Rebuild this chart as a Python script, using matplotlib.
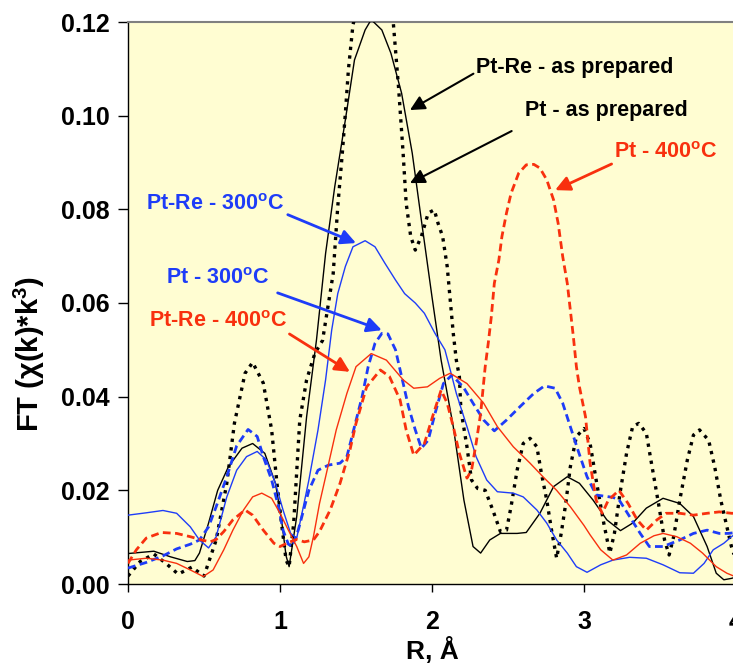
import matplotlib
matplotlib.use("Agg")
import matplotlib.pyplot as plt

plt.rcParams['font.family'] = ['Liberation Sans', 'DejaVu Sans']
plt.rcParams['font.weight'] = 'bold'
plt.rcParams['mathtext.fontset'] = 'custom'
plt.rcParams['mathtext.rm'] = 'Liberation Sans:bold'
plt.rcParams['mathtext.bf'] = 'Liberation Sans:bold'
plt.rcParams['mathtext.it'] = 'Liberation Sans:bold:italic'

# ---------------- data ----------------
r_ptre_asprep = [0.0, 0.17, 0.28, 0.39, 0.44, 0.47, 0.53, 0.59, 0.66, 0.75, 0.82, 0.90, 0.97, 1.01, 1.04,
                 1.06, 1.11, 1.175, 1.24, 1.30, 1.36, 1.43, 1.49, 1.56, 1.60, 1.67, 1.73, 1.80, 1.87, 1.93,
                 2.00, 2.06, 2.14, 2.21, 2.27, 2.32, 2.38, 2.45, 2.56, 2.62, 2.71, 2.80, 2.89, 2.97, 3.06,
                 3.15, 3.24, 3.32, 3.41, 3.52, 3.63, 3.72, 3.81, 3.87, 3.92, 3.97, 4.0]
y_ptre_asprep = [0.0065, 0.0070, 0.0058, 0.0048, 0.0050, 0.0066, 0.0130, 0.0200, 0.0250, 0.0290, 0.0300,
                 0.0279, 0.0215, 0.0137, 0.0060, 0.0037, 0.0144, 0.0357, 0.0521, 0.0706, 0.0848, 0.0991,
                 0.1119, 0.1183, 0.1205, 0.1183, 0.1133, 0.1048, 0.0920, 0.0777, 0.0613, 0.0478, 0.0336,
                 0.0179, 0.0080, 0.0066, 0.0094, 0.0108, 0.0108, 0.0110, 0.0151, 0.0208, 0.0229, 0.0215,
                 0.0179, 0.0137, 0.0114, 0.0130, 0.0162, 0.0183, 0.0172, 0.0144, 0.0080, 0.0023, 0.0009,
                 0.0012, 0.0015]

r_pt_asprep = [0.0, 0.08, 0.17, 0.25, 0.33, 0.42, 0.50, 0.58, 0.65, 0.70, 0.77, 0.82, 0.89, 0.945, 0.98,
               1.01, 1.04, 1.06, 1.09, 1.13, 1.175, 1.23, 1.28, 1.35, 1.38, 1.41, 1.43, 1.45, 1.48, 1.55,
               1.61, 1.68, 1.745, 1.78, 1.81, 1.83, 1.86, 1.89, 1.93, 1.975, 2.015, 2.04, 2.07, 2.10, 2.12,
               2.14, 2.16, 2.18, 2.19, 2.23, 2.26, 2.30, 2.35, 2.40, 2.45, 2.49, 2.52, 2.56, 2.60, 2.645,
               2.69, 2.72, 2.755, 2.79, 2.82, 2.85, 2.88, 2.91, 2.95, 3.00, 3.04, 3.08, 3.13, 3.17, 3.20,
               3.24, 3.28, 3.32, 3.36, 3.41, 3.44, 3.49, 3.53, 3.56, 3.59, 3.63, 3.68, 3.72, 3.76, 3.82,
               3.86, 3.90, 3.95, 3.97, 4.0]
y_pt_asprep = [0.0017, 0.0048, 0.0064, 0.0044, 0.0021, 0.0036, 0.0017, 0.0094, 0.0215, 0.0343, 0.0450,
               0.0473, 0.0429, 0.0329, 0.0215, 0.0130, 0.0051, 0.0037, 0.0130, 0.0350, 0.0436, 0.0493,
               0.0520, 0.0663, 0.0806, 0.0920, 0.1005, 0.1098, 0.1194, 0.1280, 0.1310, 0.1280, 0.1200,
               0.1060, 0.0920, 0.0813, 0.0742, 0.0713, 0.0742, 0.0792, 0.0799, 0.0770, 0.0742, 0.0678,
               0.0606, 0.0535, 0.0478, 0.0443, 0.0372, 0.0293, 0.0222, 0.0204, 0.0200, 0.0158, 0.0112,
               0.0115, 0.0165, 0.0243, 0.0300, 0.0311, 0.0293, 0.0236, 0.0179, 0.0108, 0.0055, 0.0108,
               0.0172, 0.0250, 0.0315, 0.0332, 0.0300, 0.0222, 0.0130, 0.0066, 0.0108, 0.0200, 0.0279,
               0.0336, 0.0343, 0.0322, 0.0265, 0.0172, 0.0094, 0.0062, 0.0101, 0.0179, 0.0265, 0.0318,
               0.0329, 0.0307, 0.0250, 0.0179, 0.0108, 0.0080, 0.0050]

r_ptre_300 = [0.0, 0.12, 0.23, 0.32, 0.41, 0.47, 0.53, 0.58, 0.65, 0.715, 0.78, 0.85, 0.91, 0.97, 1.02,
              1.07, 1.11, 1.14, 1.19, 1.25, 1.30, 1.34, 1.38, 1.43, 1.48, 1.56, 1.625, 1.69, 1.76, 1.82,
              1.89, 1.95, 2.02, 2.085, 2.12, 2.16, 2.23, 2.29, 2.36, 2.43, 2.535, 2.60, 2.69, 2.755, 2.82,
              2.89, 2.95, 3.02, 3.11, 3.19, 3.30, 3.41, 3.52, 3.63, 3.72, 3.79, 3.85, 3.92, 3.97, 4.0]
y_ptre_300 = [0.0147, 0.0152, 0.0157, 0.0151, 0.0122, 0.0094, 0.0077, 0.0101, 0.0186, 0.0243, 0.0272,
              0.0283, 0.0265, 0.0215, 0.0158, 0.0108, 0.0098, 0.0144, 0.0222, 0.0329, 0.0436, 0.0542,
              0.0620, 0.0678, 0.0720, 0.0733, 0.0720, 0.0685, 0.0649, 0.0620, 0.0600, 0.0578, 0.0535,
              0.0500, 0.0457, 0.0407, 0.0336, 0.0272, 0.0222, 0.0197, 0.0194, 0.0186, 0.0158, 0.0130,
              0.0094, 0.0066, 0.0037, 0.0025, 0.0041, 0.0051, 0.0057, 0.0055, 0.0041, 0.0024, 0.0023,
              0.0044, 0.0073, 0.0087, 0.0101, 0.0108]

r_pt_300 = [0.0, 0.12, 0.23, 0.32, 0.41, 0.47, 0.53, 0.58, 0.65, 0.715, 0.79, 0.85, 0.89, 0.945, 0.99,
            1.02, 1.055, 1.08, 1.12, 1.19, 1.25, 1.32, 1.395, 1.44, 1.49, 1.54, 1.58, 1.625, 1.67, 1.71,
            1.76, 1.80, 1.845, 1.89, 1.93, 1.975, 2.02, 2.075, 2.13, 2.205, 2.27, 2.34, 2.41, 2.49, 2.58,
            2.67, 2.74, 2.81, 2.86, 2.91, 2.96, 3.02, 3.08, 3.19, 3.23, 3.30, 3.37, 3.43, 3.52, 3.63,
            3.72, 3.81, 3.89, 3.95, 4.0]
y_pt_300 = [0.0034, 0.0046, 0.0060, 0.0075, 0.0085, 0.0094, 0.0122, 0.0165, 0.0229, 0.0295, 0.0330,
            0.0315, 0.0272, 0.0222, 0.0165, 0.0115, 0.0085, 0.0080, 0.0115, 0.0200, 0.0243, 0.0254,
            0.0258, 0.0272, 0.0336, 0.0400, 0.0464, 0.0514, 0.0535, 0.0534, 0.0500, 0.0443, 0.0379,
            0.0329, 0.0290, 0.0307, 0.0364, 0.0428, 0.0446, 0.0421, 0.0386, 0.0350, 0.0327, 0.0350,
            0.0379, 0.0407, 0.0423, 0.0418, 0.0386, 0.0336, 0.0286, 0.0229, 0.0190, 0.0185, 0.0180,
            0.0144, 0.0108, 0.0080, 0.0080, 0.0094, 0.0108, 0.0115, 0.0108, 0.0108, 0.0110]

r_ptre_400 = [0.0, 0.12, 0.23, 0.32, 0.41, 0.495, 0.56, 0.63, 0.69, 0.76, 0.82, 0.88, 0.945, 1.0, 1.055,
              1.11, 1.155, 1.19, 1.22, 1.26, 1.31, 1.37, 1.44, 1.50, 1.60, 1.70, 1.81, 1.88, 1.97, 2.05,
              2.12, 2.23, 2.34, 2.43, 2.535, 2.645, 2.73, 2.82, 2.91, 3.0, 3.04, 3.11, 3.19, 3.28, 3.37,
              3.46, 3.52, 3.61, 3.70, 3.78, 3.87, 3.94, 4.0]
y_ptre_400 = [0.0051, 0.0055, 0.0051, 0.0044, 0.0030, 0.0016, 0.0030, 0.0073, 0.0115, 0.0158, 0.0186,
              0.0194, 0.0183, 0.0151, 0.0115, 0.0080, 0.0044, 0.0058, 0.0101, 0.0172, 0.0243, 0.0329,
              0.0407, 0.0464, 0.0492, 0.0478, 0.0436, 0.0418, 0.0421, 0.0439, 0.0450, 0.0428, 0.0386,
              0.0336, 0.0293, 0.0258, 0.0229, 0.0200, 0.0165, 0.0125, 0.0105, 0.0073, 0.0051, 0.0062,
              0.0087, 0.0103, 0.0108, 0.0101, 0.0087, 0.0066, 0.0037, 0.0023, 0.0015]

r_pt_400 = [0.0, 0.055, 0.12, 0.22, 0.32, 0.41, 0.485, 0.54, 0.58, 0.63, 0.69, 0.77, 0.82, 0.89, 0.96,
            1.0, 1.066, 1.11, 1.16, 1.22, 1.26, 1.33, 1.395, 1.46, 1.50, 1.57, 1.66, 1.72, 1.79, 1.83,
            1.88, 1.95, 2.01, 2.06, 2.10, 2.14, 2.18, 2.23, 2.26, 2.29, 2.32, 2.35, 2.37, 2.39, 2.41,
            2.44, 2.46, 2.49, 2.52, 2.57, 2.62, 2.67, 2.71, 2.755, 2.80, 2.83, 2.86, 2.89, 2.91, 2.93,
            2.95, 2.97, 3.01, 3.04, 3.08, 3.12, 3.16, 3.23, 3.29, 3.35, 3.41, 3.48, 3.54, 3.63, 3.72,
            3.81, 3.89, 3.97, 4.0]
y_pt_400 = [0.0044, 0.0073, 0.0098, 0.0110, 0.0108, 0.0101, 0.0094, 0.0090, 0.0095, 0.0112, 0.0137,
            0.0158, 0.0147, 0.0115, 0.0087, 0.0080, 0.0090, 0.0095, 0.0090, 0.0094, 0.0112, 0.0158,
            0.0215, 0.0286, 0.0343, 0.0421, 0.0457, 0.0443, 0.0393, 0.0329, 0.0275, 0.0300, 0.0364,
            0.0414, 0.0386, 0.0336, 0.0279, 0.0226, 0.0243, 0.0300, 0.0364, 0.0464, 0.0514, 0.0570,
            0.0642, 0.0692, 0.0742, 0.0792, 0.0834, 0.0877, 0.0895, 0.0896, 0.0888, 0.0863, 0.0820,
            0.0770, 0.0699, 0.0642, 0.0585, 0.0528, 0.0464, 0.0421, 0.0357, 0.0258, 0.0179, 0.0151,
            0.0179, 0.0200, 0.0172, 0.0137, 0.0115, 0.0137, 0.0151, 0.0151, 0.0147, 0.0151, 0.0154,
            0.0151, 0.0151]

x_ticks = [0, 1, 2, 3, 4]
x_ticklabels = ['0', '1', '2', '3', '4']
y_ticks = [0.00, 0.02, 0.04, 0.06, 0.08, 0.10, 0.12]
y_ticklabels = ['0.00', '0.02', '0.04', '0.06', '0.08', '0.10', '0.12']

# ---------------- styling ----------------
BLUE = '#1E3CF8'
RED = '#F8300E'
BG = '#FFFDD2'
NOTE_FS = 15.5

fig = plt.figure(figsize=(7.33, 6.68), dpi=100)
ax = fig.add_axes([128 / 733, 84 / 668, 608 / 733, 562 / 668])
ax.set_facecolor(BG)

ax.plot(r_ptre_asprep, y_ptre_asprep, color='black', lw=1.0, zorder=3)
ax.plot(r_pt_asprep, y_pt_asprep, color='black', lw=2.4, linestyle=(0, (1.0, 1.6)), zorder=3)
ax.plot(r_ptre_300, y_ptre_300, color=BLUE, lw=1.0, zorder=3)
ax.plot(r_pt_300, y_pt_300, color=BLUE, lw=2.0, linestyle=(0, (2.8, 1.6)), zorder=3)
ax.plot(r_ptre_400, y_ptre_400, color=RED, lw=1.0, zorder=3)
ax.plot(r_pt_400, y_pt_400, color=RED, lw=2.0, linestyle=(0, (2.8, 1.6)), zorder=3)

ax.set_xlim(0, 4)
ax.set_ylim(0, 0.12)
ax.set_xticks(x_ticks)
ax.set_xticklabels(x_ticklabels)
ax.set_yticks(y_ticks)
ax.set_yticklabels(y_ticklabels)
ax.tick_params(axis='x', direction='out', length=6, width=1, pad=13, labelsize=18)
ax.tick_params(axis='y', direction='out', length=7, width=1, pad=6, labelsize=18)
for lab in ax.get_xticklabels() + ax.get_yticklabels():
    lab.set_fontweight('bold')

ax.spines['top'].set_color('#808080')
ax.spines['top'].set_linewidth(1.5)
ax.spines['right'].set_visible(False)
ax.spines['left'].set_linewidth(1.0)
ax.spines['bottom'].set_linewidth(1.0)

ax.set_xlabel('R, Å', fontsize=19, fontweight='bold', labelpad=2)
ax.set_ylabel('FT (χ(k)*k$^{\\mathrm{3}}$)', fontsize=21, fontweight='bold')
ax.yaxis.set_label_coords(-0.133, 0.41)

deg = '$^{\\mathrm{o}}$'


def note(text, xy, xytext, color, lw, relpos):
    ax.annotate(text, xy=xy, xytext=xytext, textcoords='data', color=color,
                fontsize=NOTE_FS, fontweight='bold', ha='center', va='center', zorder=5,
                arrowprops=dict(arrowstyle='-|>', color=color, lw=lw, mutation_scale=22,
                                shrinkA=0, shrinkB=0, relpos=relpos))


note('Pt-Re - as prepared', (1.855, 0.1012), (2.94, 0.1102), 'black', 1.5, (0.0, 0.3))
note('Pt - as prepared', (1.855, 0.0856), (3.145, 0.1012), 'black', 1.5, (-0.08, -0.5))
note('Pt - 400' + deg + 'C', (2.81, 0.0841), (3.54, 0.0922), RED, 2.0, (0.0, 0.0))
note('Pt-Re - 300' + deg + 'C', (1.50, 0.0728), (0.57, 0.0811), BLUE, 2.0, (1.03, 0.0))
note('Pt - 300' + deg + 'C', (1.67, 0.0542), (0.59, 0.0653), BLUE, 2.0, (1.08, -0.2))
note('Pt-Re - 400' + deg + 'C', (1.46, 0.0453), (0.59, 0.0560), RED, 2.0, (1.0, 0.0))

fig.savefig('out.png', dpi=100)
